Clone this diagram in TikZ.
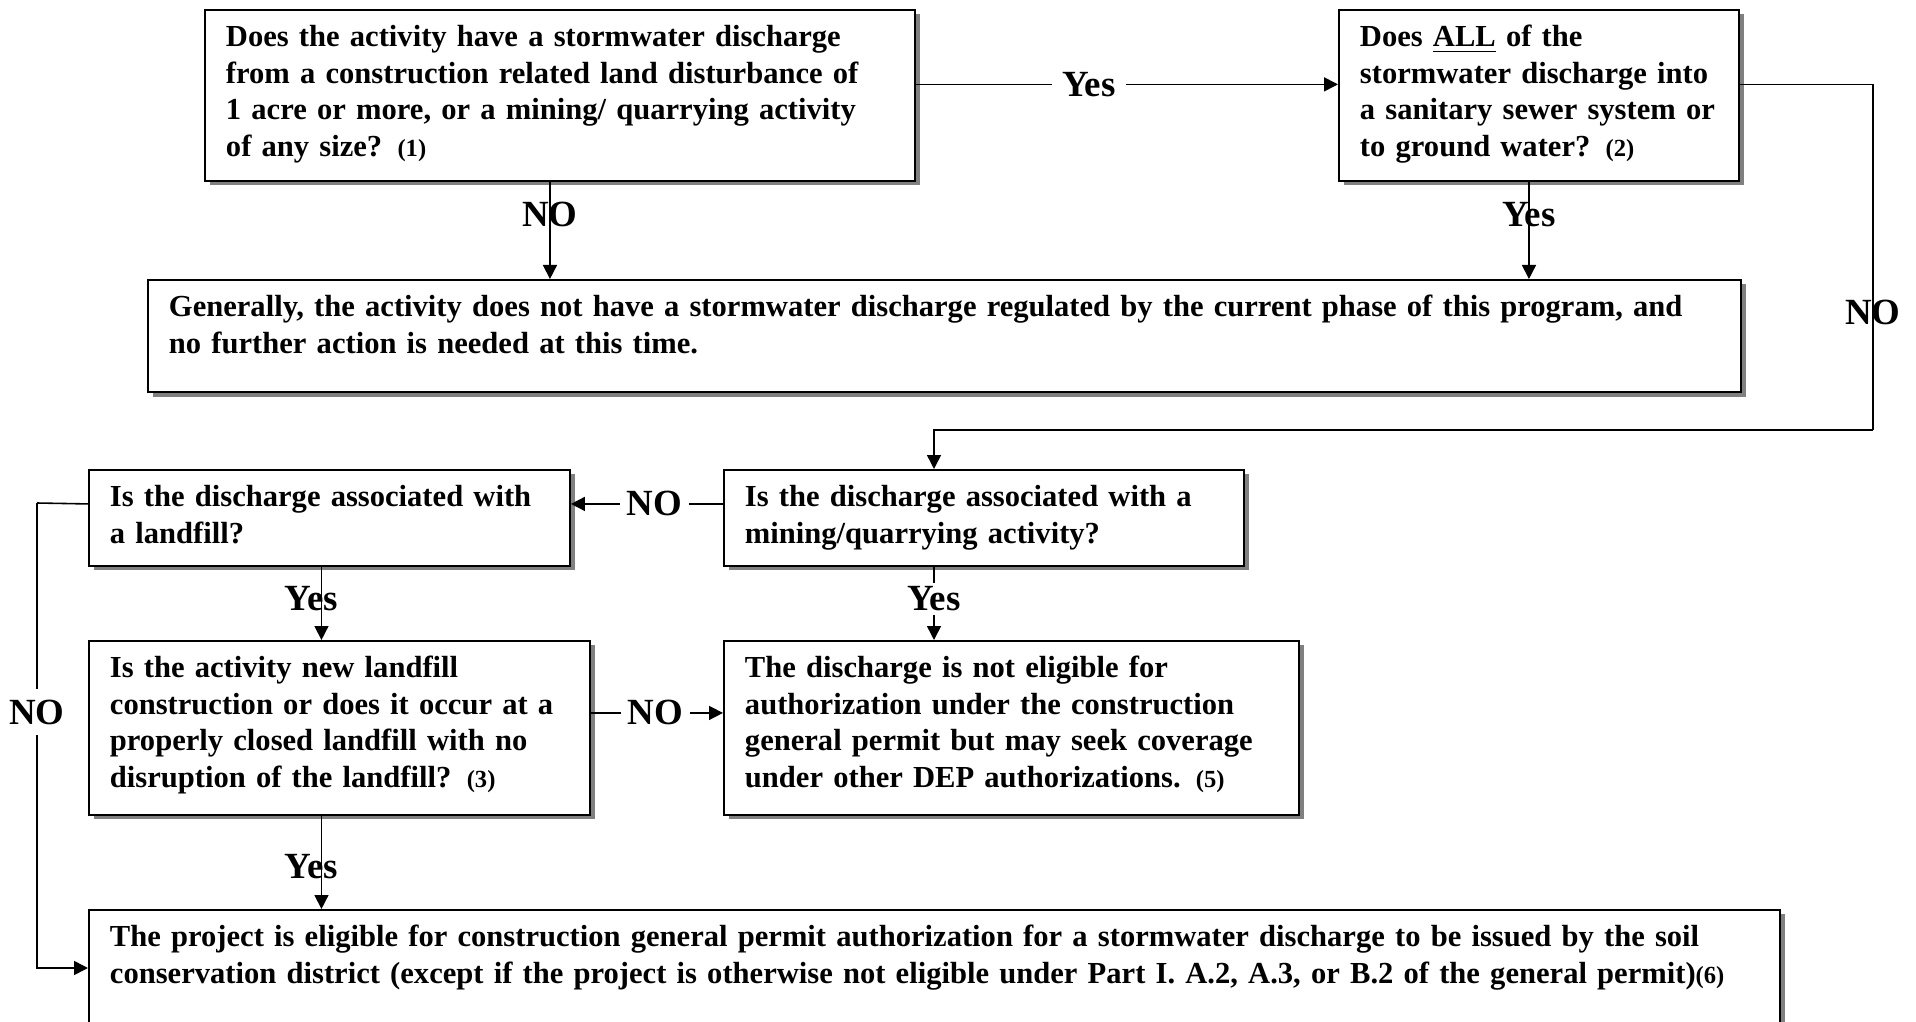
\documentclass[tikz,border=0pt]{standalone}
\usepackage{fontspec}
\setmainfont{Liberation Serif}
\usetikzlibrary{
    calc,
    positioning,
    arrows.meta,
    shadows
}

\begin{document}
\begin{tikzpicture}[
    font=\bfseries\fontsize{8.7}{10.4}\selectfont,
    box/.style={
    	draw,
    	line width=0.55pt, fill=white,
    	anchor=north west, align=left,
    	inner xsep=2.1mm, inner ysep=4pt, text height=6.5pt,
    	drop shadow={shadow xshift=0.55mm, shadow yshift=-0.45mm, fill=my-shadow, opacity=1}
    }, pil/.style={
    	-{Triangle[length=1.4mm, width=1.4mm]},
    	line width=0.45pt
    }, pil2/.style={
    	line width=0.45pt
    }, lbl/.style={
    	font=\bfseries\fontsize{10.5}{12}\selectfont,
    	inner sep=1pt
    }]
    \definecolor{my-shadow}{RGB}{128, 128, 128}

    \useasboundingbox (0,0) rectangle (19.16,-10.22);

    \node[box, text width=6.68cm, text depth=34.1pt] (q-size) at (2.04,-0.09) {Does the activity have a stormwater discharge\\from a construction related land disturbance of\\1 acre or more, or a mining/ quarrying activity\\of any size? {\scriptsize (1)}};
    \node[box, text width=3.58cm, text depth=34.1pt] (q-all) at (13.38,-0.09) {Does \underline{ALL} of the\\stormwater discharge into\\a sanitary sewer system or\\to ground water? {\scriptsize (2)}};
    \node[box, text width=15.51cm, text depth=17.4pt] (no-action) at (1.47,-2.79) {Generally, the activity does not have a stormwater discharge regulated by the current phase of this program, and\\no further action is needed at this time.};

    \path[pil] ([yshift=1.1mm]q-size.east) edge node[lbl, fill=white, inner xsep=3pt, pos=0.41] {Yes} ([yshift=1.1mm]q-all.west);
    \path[pil] ([xshift=-1mm]q-size.south) edge node[lbl, pos=0.34] {NO} ([xshift=-1mm]q-size.south |- no-action.north);
    \path[pil] ([xshift=-1mm]q-all.south) edge node[lbl, pos=0.34] {Yes} ([xshift=-1mm]q-all.south |- no-action.north);


    \node[box, text width=4.78cm, text depth=12.8pt] (q-mining) at (7.23,-4.69) {Is the discharge associated with a\\mining/quarrying activity?};
    \node[box, text width=4.39cm, text depth=12.8pt] (q-landfill) at (0.88,-4.69) {Is the discharge associated with\\a landfill?};

    \coordinate (no-bend) at (18.73,-4.30);
    \draw[pil2] ([yshift=1.1mm]q-all.east) -| node[lbl, pos=0.83] {NO} (no-bend);
    \draw[pil] (no-bend) -| ([xshift=2.11cm]q-mining.north west);
    \path[pil] ([yshift=1.4mm]q-mining.west) edge node[lbl, fill=white, inner xsep=2pt, pos=0.45] {NO} ([yshift=1.4mm]q-landfill.east);


    \node[box, text width=4.59cm, text depth=35pt] (q-newfill) at (0.88,-6.40) {Is the activity new landfill\\construction or does it occur at a\\properly closed landfill with no\\disruption of the landfill? {\scriptsize (3)}};
    \node[box, text width=5.33cm, text depth=35pt] (not-eligible) at (7.23,-6.40) {The discharge is not eligible for\\authorization under the construction\\general permit but may seek coverage\\under other DEP authorizations. {\scriptsize (5)}};

    \path[pil] ([xshift=-0.8mm]q-landfill.south) edge node[lbl, xshift=-1mm, pos=0.44] {Yes} ([xshift=-0.8mm]q-landfill.south |- q-newfill.north);
    \path[pil] ([xshift=2.11cm]q-mining.south west) edge node[lbl, fill=white, pos=0.44] {Yes} ([xshift=2.11cm]q-mining.south west |- not-eligible.north);
    \path[pil] ([yshift=1.5mm]q-newfill.east) edge node[lbl, fill=white, inner xsep=2pt, pos=0.49] {NO} ([yshift=1.5mm]q-newfill.east -| not-eligible.west);


    \node[box, text width=16.49cm, text depth=21pt] (eligible) at (0.88,-9.09) {The project is eligible for construction general permit authorization for a stormwater discharge to be issued by the soil\\conservation district (except if the project is otherwise not eligible under Part I. A.2, A.3, or B.2 of the general permit){\scriptsize (6)}};

    \path[pil] ([xshift=-0.8mm]q-landfill.south |- q-newfill.south) edge node[lbl, xshift=-1mm, pos=0.54] {Yes} ([xshift=-0.8mm]q-landfill.south |- eligible.north);

    \coordinate (left-bend) at (0.37,-5.03);
    \draw[pil2] ([yshift=1.4mm]q-landfill.west) -- (left-bend);
    \draw[pil] (left-bend) |- node[lbl, fill=white, inner ysep=3pt, pos=0.225] {NO} ([yshift=-5.9mm]eligible.north west);

\end{tikzpicture}
\end{document}
